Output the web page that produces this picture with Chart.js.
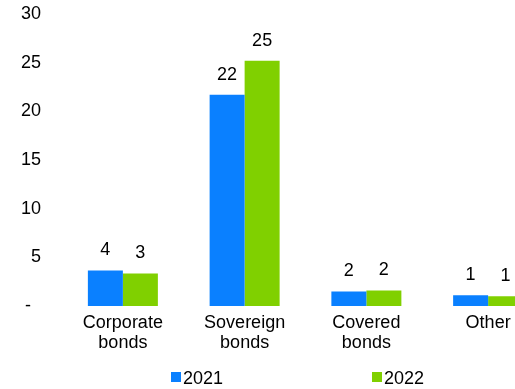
<!DOCTYPE html>
<html>
<head>
<meta charset="utf-8">
<script src="https://cdn.jsdelivr.net/npm/chart.js@4"></script>
<style>
  html, body { margin: 0; padding: 0; background: #ffffff; overflow: hidden; }
  #wrap { position: relative; width: 560px; height: 389px; }
</style>
</head>
<body>
<div id="wrap"><canvas id="bondChart" width="560" height="389"></canvas></div>
<script>
// Values
const categories = [['Corporate', 'bonds'], ['Sovereign', 'bonds'], ['Covered', 'bonds'], 'Other'];
const seriesNames = ['2021', '2022'];
const values2021 = [3.65, 21.7, 1.5, 1.1];
const values2022 = [3.35, 25.2, 1.6, 1.0];
const yTicks = [0, 5, 10, 15, 20, 25, 30];

const BLUE = '#0A80FF';
const GREEN = '#80D000';
const FONT = "'Liberation Sans', Arial, sans-serif";

// value labels above bars + legend under the axis
const barLabels = {
  id: 'barLabels',
  afterDatasetsDraw(chart) {
    const ctx = chart.ctx;
    ctx.save();
    ctx.font = '18px ' + FONT;
    ctx.fillStyle = '#000';
    ctx.textAlign = 'center';
    ctx.textBaseline = 'alphabetic';
    chart.data.datasets.forEach((ds, i) => {
      chart.getDatasetMeta(i).data.forEach((bar, j) => {
        ctx.fillText(String(Math.round(ds.data[j])), bar.x, bar.y - 15);
      });
    });
    ctx.restore();
  },
  afterDraw(chart) {
    const ctx = chart.ctx;
    const spots = [171, 372];
    ctx.save();
    ctx.font = '18px ' + FONT;
    ctx.textAlign = 'left';
    ctx.textBaseline = 'alphabetic';
    chart.data.datasets.forEach((ds, i) => {
      ctx.fillStyle = ds.backgroundColor;
      ctx.fillRect(spots[i], 372, 10, 10);
      ctx.fillStyle = '#000';
      ctx.fillText(ds.label, spots[i] + 12, 384);
    });
    ctx.restore();
  }
};

new Chart(document.getElementById('bondChart'), {
  type: 'bar',
  data: {
    labels: categories,
    datasets: [
      { label: seriesNames[0], data: values2021, backgroundColor: BLUE },
      { label: seriesNames[1], data: values2022, backgroundColor: GREEN }
    ]
  },
  options: {
    responsive: false,
    animation: false,
    devicePixelRatio: 1,
    layout: { padding: { top: 14, right: 11, bottom: 0, left: 0 } },
    plugins: {
      legend: { display: false },
      tooltip: { enabled: false }
    },
    datasets: {
      bar: { categoryPercentage: 0.575, barPercentage: 1 }
    },
    scales: {
      x: {
        grid: { display: false, drawTicks: false },
        border: { display: false },
        ticks: {
          color: '#000',
          padding: 7,
          maxRotation: 0,
          autoSkip: false,
          font: { family: FONT, size: 18, lineHeight: 1.1 }
        },
        afterFit(scale) {
          scale.height = 83;
          scale.paddingLeft = 0;
          scale.paddingRight = 0;
        }
      },
      y: {
        min: 0,
        max: 30,
        afterBuildTicks(scale) { scale.ticks = yTicks.map(v => ({ value: v })); },
        grid: { display: false, drawTicks: false },
        border: { display: false },
        ticks: {
          color: '#000',
          padding: 21,
          font: { family: FONT, size: 18 },
          callback: v => (v === 0 ? '-  ' : String(v))
        },
        afterFit(scale) {
          scale.width = 62;
          scale.paddingTop = 0;
          scale.paddingBottom = 0;
        }
      }
    }
  },
  plugins: [barLabels]
});
</script>
</body>
</html>
